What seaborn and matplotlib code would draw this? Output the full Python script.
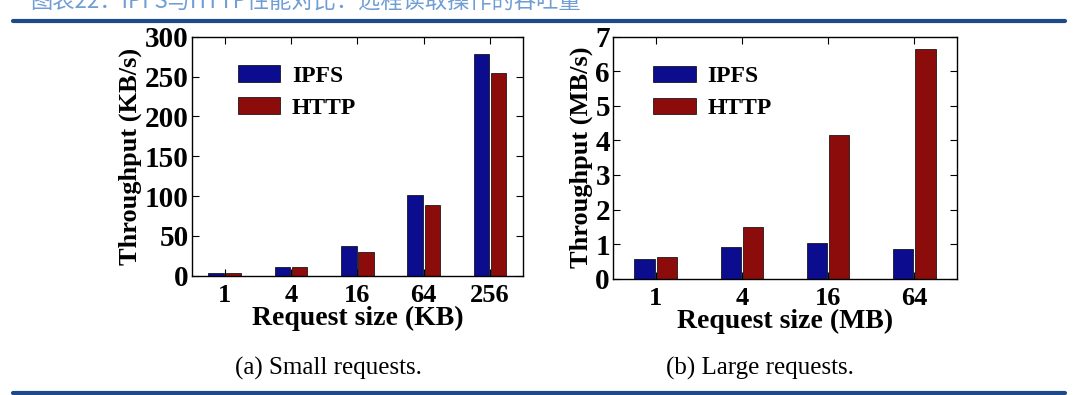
import pandas as pd
import matplotlib
matplotlib.use('Agg')
import matplotlib.pyplot as plt
import seaborn as sns

# data
small_sizes = ['1', '4', '16', '64', '256']
small_ipfs = [3, 11, 37, 101, 278]
small_http = [4, 11, 30, 89, 255]

large_sizes = ['1', '4', '16', '64']
large_ipfs = [0.56, 0.91, 1.04, 0.85]
large_http = [0.62, 1.49, 4.17, 6.65]

protocols = ['IPFS', 'HTTP']
colors = ['#0c0c8e', '#8c0b0b']

title_text = '图表22：IPFS与HTTP性能对比：远程读取操作的吞吐量'
caption_a = '(a) Small requests.'
caption_b = '(b) Large requests.'

sns.set_theme(style='ticks')
plt.rcParams['font.family'] = ['Liberation Serif', 'DejaVu Serif']
plt.rcParams['axes.unicode_minus'] = False
plt.rcParams['text.color'] = 'black'
plt.rcParams['axes.labelcolor'] = 'black'
plt.rcParams['xtick.color'] = 'black'
plt.rcParams['ytick.color'] = 'black'


def make_df(sizes, ipfs, http):
    return pd.DataFrame({
        'size': sizes * 2,
        'value': ipfs + http,
        'proto': ['IPFS'] * len(sizes) + ['HTTP'] * len(sizes),
    })


fig = plt.figure(figsize=(10.8, 3.95), dpi=100)
ax1 = fig.add_axes([0.1775, 0.302, 0.3068, 0.605])
ax2 = fig.add_axes([0.5673, 0.2944, 0.3191, 0.6127])

panels = [
    (ax1, make_df(small_sizes, small_ipfs, small_http), small_sizes,
     'Throughput (KB/s)', 'Request size (KB)', (0, 300), range(0, 301, 50)),
    (ax2, make_df(large_sizes, large_ipfs, large_http), large_sizes,
     'Throughput (MB/s)', 'Request size (MB)', (0, 7), range(0, 8)),
]

for ax, df, order, ylab, xlab, ylim, yticks in panels:
    sns.barplot(data=df, x='size', y='value', hue='proto', order=order,
                hue_order=protocols, palette=colors, width=0.52, gap=0.1,
                edgecolor='black', linewidth=0.5, saturation=1, ax=ax)
    ax.set_xlim(-0.5, len(order) - 0.5)
    ax.set_ylim(*ylim)
    ax.set_yticks(list(yticks))
    ax.set_ylabel(ylab, fontsize=19, fontweight='bold', labelpad=2)
    ax.set_xlabel(xlab, fontsize=20, fontweight='bold', labelpad=-1)
    ax.tick_params(direction='in', top=True, right=True, length=5, width=0.8,
                   color='black')
    ax.tick_params(axis='x', labelsize=19, pad=6)
    ax.tick_params(axis='y', labelsize=21, pad=2)
    for lab in ax.get_xticklabels() + ax.get_yticklabels():
        lab.set_fontweight('bold')
    for sp in ax.spines.values():
        sp.set_color('black')
        sp.set_linewidth(1.0)
    ax.legend(loc='upper left', bbox_to_anchor=(0.11, 0.92), frameon=False,
              prop={'family': 'Liberation Serif', 'weight': 'bold', 'size': 17},
              handlelength=1.8, handleheight=0.7, labelspacing=0.45,
              handletextpad=0.5, borderaxespad=0)

ax2.get_legend().set_bbox_to_anchor((0.09, 0.92))

# captions
fig.text(0.304, 0.068, caption_a, ha='center', va='center', fontsize=18)
fig.text(0.704, 0.068, caption_b, ha='center', va='center', fontsize=18)

# header (cut off at top, as in the source) and rules
fig.text(0.028, 0.995, title_text, ha='left', va='center', fontsize=16,
         color='#6f9dd4', family=['Noto Sans CJK SC', 'DejaVu Sans'])
fig.add_artist(plt.Line2D([0.012, 0.986], [0.948, 0.948], color='#1c4a8a',
                          linewidth=3.0, transform=fig.transFigure))
fig.add_artist(plt.Line2D([0.012, 0.986], [0.006, 0.006], color='#1c4a8a',
                          linewidth=3.0, transform=fig.transFigure))

plt.savefig('out.png', dpi=100)
plt.close()
